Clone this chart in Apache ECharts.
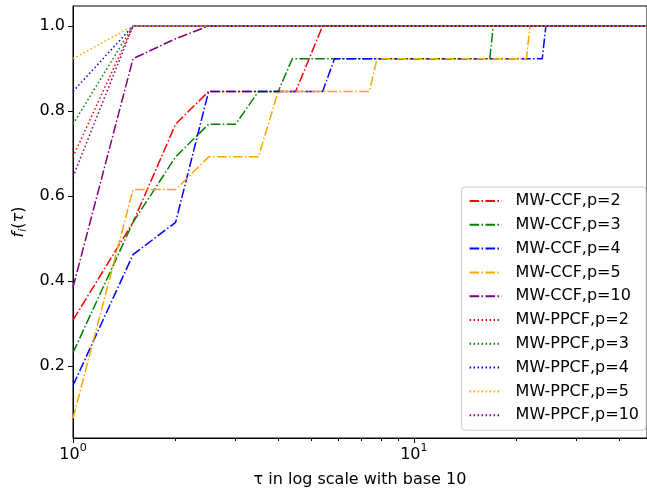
<!DOCTYPE html>
<html><head><meta charset="utf-8">
<script src="https://cdn.jsdelivr.net/npm/echarts@6/dist/echarts.min.js"></script>
<style>html,body{margin:0;padding:0;background:#fff}#c{width:647px;height:493px}</style>
</head><body><div id="c"></div>
<script>
// ---- data ----
const seriesNames = ['MW-CCF,p=2','MW-CCF,p=3','MW-CCF,p=4','MW-CCF,p=5','MW-CCF,p=10',
                     'MW-PPCF,p=2','MW-PPCF,p=3','MW-PPCF,p=4','MW-PPCF,p=5','MW-PPCF,p=10'];
const ccf2X = [1, 1.5, 2, 2.5, 4.5, 5.4, 50];
const ccf2Y = [0.308, 0.538, 0.769, 0.846, 0.846, 1.0, 1.0];
const ccf3X = [1, 1.5, 2, 2.5, 3, 3.5, 4, 4.4, 16.7, 17.1, 50];
const ccf3Y = [0.231, 0.538, 0.692, 0.769, 0.769, 0.846, 0.846, 0.923, 0.923, 1.0, 1.0];
const ccf4X = [1, 1.5, 2, 2.5, 5.4, 5.85, 23.8, 24.4, 50];
const ccf4Y = [0.154, 0.462, 0.538, 0.846, 0.846, 0.923, 0.923, 1.0, 1.0];
const ccf5X = [1, 1.5, 2, 2.5, 3.5, 4, 7.4, 7.8, 21.4, 21.9, 50];
const ccf5Y = [0.077, 0.615, 0.615, 0.692, 0.692, 0.846, 0.846, 0.923, 0.923, 1.0, 1.0];
const ccf10X = [1, 1.5, 2, 2.5, 50];
const ccf10Y = [0.385, 0.923, 0.970, 1.0, 1.0];
const ppcfX = [1, 1.5, 50];
const ppcf2Y = [0.692, 1.0, 1.0];
const ppcf3Y = [0.769, 1.0, 1.0];
const ppcf4Y = [0.846, 1.0, 1.0];
const ppcf5Y = [0.923, 1.0, 1.0];
const ppcf10Y = [0.645, 1.0, 1.0];
const xMajorTicks = [1, 10];
const xMinorTicks = [2, 3, 4, 5, 6, 7, 8, 9, 20, 30, 40];
const yTicks = [0.2, 0.4, 0.6, 0.8, 1.0];
const xRange = [1, 48.3];
const yRange = [0.0305, 1.047];

// ---- build ----
const zip = (xs, ys) => xs.map((x, i) => [x, ys[i]]);
const colors = ['#ff0000', '#008000', '#0000ff', '#ffa500', '#800080'];
const dashDot = [9.6, 2.4, 1.5, 2.4];
const dotted = [1.5, 2.5];
const datasets = [
  zip(ccf2X, ccf2Y), zip(ccf3X, ccf3Y), zip(ccf4X, ccf4Y), zip(ccf5X, ccf5Y), zip(ccf10X, ccf10Y),
  zip(ppcfX, ppcf2Y), zip(ppcfX, ppcf3Y), zip(ppcfX, ppcf4Y), zip(ppcfX, ppcf5Y), zip(ppcfX, ppcf10Y)
];
const FONT = 'DejaVu Sans';
const FS = 16;
const series = datasets.map((d, i) => ({
  name: seriesNames[i],
  type: 'line',
  xAxisIndex: 0,
  data: d,
  symbol: 'none',
  showSymbol: false,
  animation: false,
  clip: true,
  color: colors[i % 5],
  lineStyle: { width: 1.5, color: colors[i % 5], type: i < 5 ? dashDot : dotted, cap: 'butt' }
}));

const chart = echarts.init(document.getElementById('c'), null, { renderer: 'canvas' });
chart.setOption({
  animation: false,
  backgroundColor: '#fff',
  textStyle: { fontFamily: FONT, color: '#000' },
  grid: { left: 73, right: -6, top: 6, bottom: 54, show: true, borderColor: '#000', borderWidth: 1, containLabel: false },
  legend: {
    orient: 'vertical', right: 1, top: 187,
    padding: [6, 7, 7, 7],
    itemWidth: 32, itemHeight: 16, itemGap: 7.8,
    backgroundColor: 'rgba(255,255,255,0.8)',
    borderColor: '#cccccc', borderWidth: 1, borderRadius: 3,
    itemStyle: { opacity: 0 },
    textStyle: { fontFamily: FONT, fontSize: FS, color: '#000', padding: [0, 0, 0, 9] },
    data: seriesNames
  },
  xAxis: [{
    type: 'log', logBase: 10, min: xRange[0], max: xRange[1],
    name: 'τ in log scale with base 10', nameLocation: 'middle', nameGap: 34,
    nameTextStyle: { fontFamily: FONT, fontSize: FS, color: '#000' },
    axisLine: { show: true, onZero: false, lineStyle: { color: '#000', width: 1 } },
    axisTick: { show: true, inside: false, length: 5, lineStyle: { color: '#000', width: 1 }, customValues: xMajorTicks },
    axisLabel: {
      show: true, margin: 5, customValues: xMajorTicks, color: '#000',
      formatter: v => '{b|10}{s|' + Math.round(Math.log10(v)) + '}',
      rich: { b: { fontFamily: FONT, fontSize: FS, lineHeight: 20, color: '#000', verticalAlign: 'bottom' },
              s: { fontFamily: FONT, fontSize: 11, lineHeight: 11, color: '#000', verticalAlign: 'top' } }
    },
    splitLine: { show: false }, minorTick: { show: false }, minorSplitLine: { show: false }
  }, {
    type: 'log', logBase: 10, min: xRange[0], max: xRange[1], position: 'bottom', gridIndex: 0,
    axisLine: { show: false },
    axisTick: { show: true, inside: false, length: 3, lineStyle: { color: '#000', width: 1 }, customValues: xMinorTicks },
    axisLabel: { show: false },
    splitLine: { show: false }
  }],
  yAxis: {
    type: 'value', min: yRange[0], max: yRange[1],
    name: '{f|f}{i|i}{p|(}{t|τ}{p|)}', nameLocation: 'middle', nameGap: 37, nameRotate: 90,
    nameTextStyle: {
      color: '#000',
      rich: {
        f: { fontFamily: FONT, fontSize: FS, fontStyle: 'italic', color: '#000', lineHeight: 20, verticalAlign: 'middle' },
        i: { fontFamily: FONT, fontSize: 11, fontStyle: 'italic', color: '#000', lineHeight: 11, verticalAlign: 'bottom' },
        p: { fontFamily: FONT, fontSize: FS, color: '#000', lineHeight: 20, verticalAlign: 'middle' },
        t: { fontFamily: FONT, fontSize: FS, fontStyle: 'italic', color: '#000', lineHeight: 20, verticalAlign: 'middle' }
      }
    },
    axisLine: { show: true, onZero: false, lineStyle: { color: '#000', width: 1 } },
    axisTick: { show: true, inside: false, length: 5, lineStyle: { color: '#000', width: 1 }, customValues: yTicks },
    axisLabel: { show: true, margin: 8, customValues: yTicks, fontFamily: FONT, fontSize: FS, color: '#000',
                 formatter: v => v.toFixed(1) },
    splitLine: { show: false }
  },
  series: series
});
</script></body></html>
